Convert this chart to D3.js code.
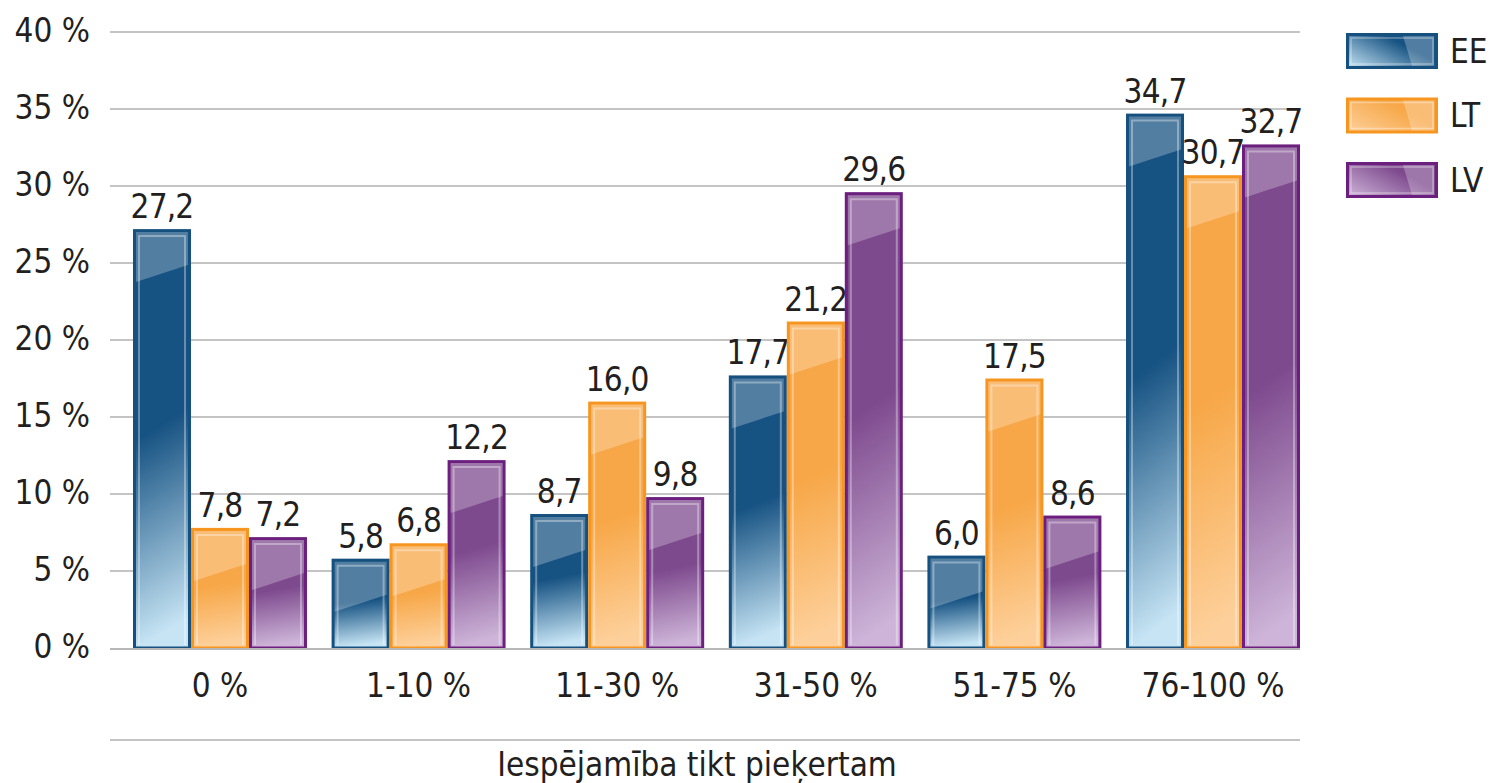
<!DOCTYPE html>
<html>
<head>
<meta charset="utf-8">
<script src="https://cdn.jsdelivr.net/npm/d3@7"></script>
<style>
  html, body { margin: 0; padding: 0; background: #fff; }
  svg { display: block; font-family: "DejaVu Sans Condensed", "DejaVu Sans", sans-serif; }
</style>
</head>
<body>
<svg id="chart" width="1498" height="783"></svg>
<script>
const categories = ["0 %", "1-10 %", "11-30 %", "31-50 %", "51-75 %", "76-100 %"];
const seriesNames = ["EE", "LT", "LV"];
const valuesEE = [27.2, 5.8, 8.7, 17.7, 6.0, 34.7];
const valuesLT = [7.8, 6.8, 16.0, 21.2, 17.5, 30.7];
const valuesLV = [7.2, 12.2, 9.8, 29.6, 8.6, 32.7];
const yTicks = [0, 5, 10, 15, 20, 25, 30, 35, 40];
const axisTitle = "Iespējamība tikt pieķertam";

const seriesValues = { EE: valuesEE, LT: valuesLT, LV: valuesLV };
const palette = {
  EE: { stroke: "#15507e", base: "#165282", light: "#c6e4f4" },
  LT: { stroke: "#f6951f", base: "#f7a747", light: "#fdd09b" },
  LV: { stroke: "#6c1f7e", base: "#7e4a8e", light: "#cdb4d8" }
};

const svg = d3.select("#chart");
const plotLeft = 110, plotRight = 1300;
const fontSize = 33;
const y = d3.scaleLinear().domain([0, 40]).range([648, 32]);
const x0 = d3.scaleBand().domain(categories).range([133, 1300]).paddingInner(0.124).paddingOuter(0);
const x1 = d3.scaleBand().domain(seriesNames).range([0, x0.bandwidth()]).padding(0);
const fmt = v => d3.format(".1f")(v).replace(".", ",");

const defs = svg.append("defs");
seriesNames.forEach(s => {
  const c = palette[s];
  const g = defs.append("linearGradient").attr("id", "bar-" + s)
    .attr("x1", 0).attr("y1", 0).attr("x2", 0.08).attr("y2", 1);
  g.append("stop").attr("offset", 0).attr("stop-color", c.base);
  g.append("stop").attr("offset", 0.5).attr("stop-color", c.base);
  g.append("stop").attr("offset", 1).attr("stop-color", c.light);
  const lg = defs.append("linearGradient").attr("id", "leg-" + s)
    .attr("x1", 0).attr("y1", 1).attr("x2", 1).attr("y2", 0.3);
  lg.append("stop").attr("offset", 0).attr("stop-color", c.light);
  lg.append("stop").attr("offset", 0.75).attr("stop-color", c.base);
  lg.append("stop").attr("offset", 1).attr("stop-color", c.base);
});

// gridlines
svg.append("g").selectAll("line").data(yTicks.filter(t => t > 0)).join("line")
  .attr("x1", plotLeft).attr("x2", plotRight)
  .attr("y1", d => y(d)).attr("y2", d => y(d))
  .attr("stroke", "#c4c4c4").attr("stroke-width", 2);

// y tick labels
svg.append("g").selectAll("text").data(yTicks).join("text")
  .attr("x", 90).attr("y", d => y(d)).attr("dy", "0.3em")
  .attr("text-anchor", "end").attr("font-size", fontSize).attr("fill", "#231f20")
  .text(d => d + " %");

// bars
const rows = categories.map((cat, i) => ({ cat, bars: seriesNames.map(s => ({ s, v: seriesValues[s][i] })) }));
const groups = svg.append("g").selectAll("g").data(rows).join("g")
  .attr("transform", d => `translate(${x0(d.cat)},0)`);

const bar = groups.selectAll("g").data(d => d.bars).join("g")
  .attr("transform", d => `translate(${x1(d.s)},0)`);

const bw = x1.bandwidth();
bar.append("rect")
  .attr("x", 1.5).attr("width", bw - 3)
  .attr("y", d => y(d.v) + 1.5).attr("height", d => y(0) - y(d.v) - 1.5)
  .attr("fill", d => `url(#bar-${d.s})`)
  .attr("stroke", d => palette[d.s].stroke).attr("stroke-width", 3);

// glossy top highlight with diagonal lower edge
bar.append("path")
  .attr("d", d => {
    const top = y(d.v) + 3, h = y(0) - y(d.v) - 3;
    const left = Math.min(50, h), right = Math.min(33, h);
    return `M3,${top} L${bw - 3},${top} L${bw - 3},${top + right} L3,${top + left} Z`;
  })
  .attr("fill", "#fff").attr("fill-opacity", 0.26);

// inner light rim
bar.append("path")
  .attr("d", d => {
    const top = y(d.v) + 7, bottom = y(0) - 3;
    return `M6,${bottom} L6,${top} L${bw - 6},${top} L${bw - 6},${bottom}`;
  })
  .attr("fill", "none").attr("stroke", "#fff").attr("stroke-opacity", 0.35).attr("stroke-width", 2);

// value labels
bar.append("text")
  .attr("x", bw / 2).attr("y", d => y(d.v) - 11)
  .attr("text-anchor", "middle").attr("font-size", fontSize).attr("letter-spacing", -0.8)
  .attr("fill", "#231f20")
  .text(d => fmt(d.v));

// baseline
svg.append("line").attr("x1", plotLeft).attr("x2", plotRight)
  .attr("y1", y(0) + 1).attr("y2", y(0) + 1)
  .attr("stroke", "#b8b8b8").attr("stroke-width", 2);

// category labels
svg.append("g").selectAll("text").data(categories).join("text")
  .attr("x", d => x0(d) + x0.bandwidth() / 2).attr("y", 697)
  .attr("text-anchor", "middle").attr("font-size", fontSize).attr("fill", "#231f20")
  .text(d => d);

// separator and axis title
svg.append("line").attr("x1", plotLeft).attr("x2", plotRight)
  .attr("y1", 740).attr("y2", 740).attr("stroke", "#c4c4c4").attr("stroke-width", 2);
svg.append("text").attr("x", 697).attr("y", 776)
  .attr("text-anchor", "middle").attr("font-size", fontSize).attr("fill", "#231f20")
  .text(axisTitle);

// legend
const legend = svg.append("g").selectAll("g").data(seriesNames).join("g")
  .attr("transform", (d, i) => `translate(1346,${33 + i * 64.5})`);
legend.append("rect").attr("x", 1.5).attr("y", 1.5).attr("width", 89).attr("height", 33)
  .attr("fill", d => `url(#leg-${d})`)
  .attr("stroke", d => palette[d].stroke).attr("stroke-width", 3);
legend.append("path").attr("d", "M57,3 L88,3 L88,33 L66,33 Z")
  .attr("fill", "#fff").attr("fill-opacity", 0.25);
legend.append("rect").attr("x", 5).attr("y", 5).attr("width", 82).attr("height", 26)
  .attr("fill", "none").attr("stroke", "#fff").attr("stroke-opacity", 0.35).attr("stroke-width", 1.5);
legend.append("text").attr("x", 104).attr("y", 18).attr("dy", "0.36em")
  .attr("font-size", fontSize).attr("fill", "#231f20").text(d => d);
</script>
</body>
</html>
